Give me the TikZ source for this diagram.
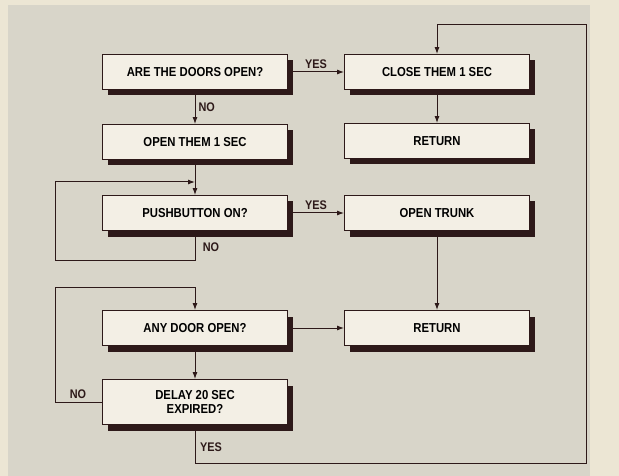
\documentclass[tikz,border=0pt]{standalone}
\usepackage{fontspec}
\setmainfont[FakeStretch=0.87]{Liberation Sans}
\usetikzlibrary{arrows.meta,shadows}

\definecolor{paper}{RGB}{236,230,212}
\definecolor{panel}{RGB}{216,213,201}
\definecolor{boxfill}{RGB}{243,239,229}
\definecolor{ink}{RGB}{45,25,25}

\tikzset{
  stepbox/.style={draw=ink, line width=0.9pt, fill=boxfill, minimum width=185pt,
    minimum height=35pt, inner sep=2pt, align=center,
    font=\fontsize{13}{14}\selectfont\bfseries,
    drop shadow={shadow xshift=5pt, shadow yshift=-6pt, fill=ink, opacity=1}},
  flow/.style={draw=ink, line width=1pt, -{Latex[length=7pt,width=5pt]}},
  lbl/.style={font=\fontsize{12.5}{13}\selectfont\bfseries, text=ink, inner sep=1pt}
}

\begin{document}
\begin{tikzpicture}[x=1pt, y=-1pt]
    \useasboundingbox (0,0) rectangle (619,476);
    \fill[paper] (0,0) rectangle (619,476);
    \fill[panel] (8,5) rectangle (590,476);

    % left column
    \node[stepbox] (doors) at (195,72) {ARE THE DOORS OPEN?};
    \node[stepbox] (open) at (195,142) {OPEN THEM 1 SEC};
    \node[stepbox] (push) at (195,213) {PUSHBUTTON ON?};
    \node[stepbox] (any) at (195,328) {ANY DOOR OPEN?};
    \node[stepbox, minimum height=45pt] (delay) at (195,402) {DELAY 20 SEC\\EXPIRED?};

    % right column
    \node[stepbox] (close) at (437,72) {CLOSE THEM 1 SEC};
    \node[stepbox] (ret1) at (437,141) {RETURN};
    \node[stepbox] (trunk) at (437,213) {OPEN TRUNK};
    \node[stepbox] (ret2) at (437,328) {RETURN};

    % corners of the loops
    \coordinate (pushjoin) at (195,182);
    \coordinate (pushloop) at (55,260);
    \coordinate (anyjoin) at (195,287);
    \coordinate (delayloop) at (55,402);
    \coordinate (yesloop) at (586,463);
    \coordinate (closejoin) at (437,25);

    \draw[flow] (doors) -- (close) node[lbl, midway, above=2pt] {YES};
    \draw[flow] (doors) -- (open) node[lbl, midway, right=2pt] {NO};
    \draw[flow] (open) -- (push);
    \draw[flow] (push.south) |- (pushloop) |- (pushjoin);
    \node[lbl] at (211,247) {NO};
    \draw[flow] (push) -- (trunk) node[lbl, midway, above=2pt] {YES};
    \draw[flow] (close) -- (ret1);
    \draw[flow] (trunk) -- (ret2);
    \draw[flow] (any) -- (ret2);
    \draw[flow] (any) -- (delay);
    \draw[flow] (delay.west) -- (delayloop) |- (anyjoin) -- (any.north);
    \node[lbl] at (78,394) {NO};
    \draw[flow] (delay.south) |- (yesloop) |- (closejoin) -- (close.north);
    \node[lbl] at (211,447) {YES};
\end{tikzpicture}
\end{document}
